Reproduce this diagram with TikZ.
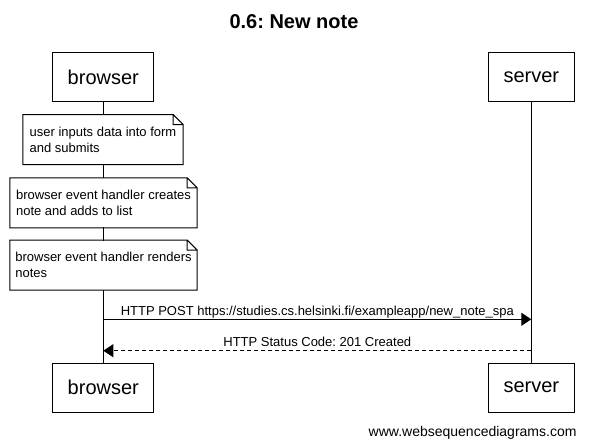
\documentclass[tikz,border=0pt]{standalone}
\usepackage{fontspec}
\setmainfont{Liberation Sans}
\usetikzlibrary{arrows.meta}
\frenchspacing

\tikzset{
	actor/.style = {draw, fill=white, inner xsep=15pt, inner ysep=0pt,
		minimum height=49pt, font=\fontsize{20}{24}\selectfont},
	note/.style  = {fill=white, inner sep=0pt, minimum height=49pt,
		align=left, font=\fontsize{13}{16}\selectfont},
	msg/.style   = {anchor=base, inner sep=0pt, font=\fontsize{13}{16}\selectfont},
}

\begin{document}
\begin{tikzpicture}[
		x = 1pt,
		y = -1pt,
		line width = 1pt,
		line join = miter,
		> = {Triangle[length=10pt,width=13pt]},
		]
\useasboundingbox (0,0) rectangle (589,447);
\node[anchor=base, font=\fontsize{20}{24}\selectfont\bfseries] (title) at (294,28.3) {0.6: New note};
% participants
\node[actor] (browser)  at (103.3,77)  {browser};
\node[actor] (server)   at (531.3,77)  {server};
\node[actor] (browser2) at (103.3,387.5) {browser};
\node[actor] (server2)  at (531.3,387.5) {server};
\draw (browser) -- (browser2)
	(server) -- (server2);
% notes
\node[note, minimum width=159.4pt] (input)  at (103,139.5) {user inputs data into form\\and submits};
\node[note, minimum width=186.4pt] (create) at (103.5,202.8) {browser event handler creates\\note and adds to list};
\node[note, minimum width=186.4pt] (render) at (103.5,265) {browser event handler renders\\notes};
\foreach \n in {input,create,render}
	\draw (\n.north west) -- ([xshift=-10pt]\n.north east) -- ([yshift=-10pt]\n.north east)
		-- (\n.south east) -- (\n.south west) -- cycle
		([xshift=-10pt]\n.north east) |- ([yshift=-10pt]\n.north east);
% messages
\coordinate (post1) at (browser |- 0,319.3);
\coordinate (post2) at (server |- 0,319.3);
\coordinate (resp1) at (server |- 0,350.7);
\coordinate (resp2) at (browser |- 0,350.7);
\draw[->] (post1) -- (post2)
	node[msg, midway, yshift=4pt] {HTTP POST https://studies.cs.helsinki.fi/exampleapp/new\_note\_spa};
\draw[->, dash pattern=on 4pt off 3pt] (resp1) -- (resp2)
	node[msg, midway, yshift=4pt] {HTTP Status Code: 201 Created};
\node[anchor=base east, inner sep=0pt, font=\fontsize{14}{16}\selectfont] (site) at (577,436) {www.websequencediagrams.com};
\end{tikzpicture}
\end{document}
